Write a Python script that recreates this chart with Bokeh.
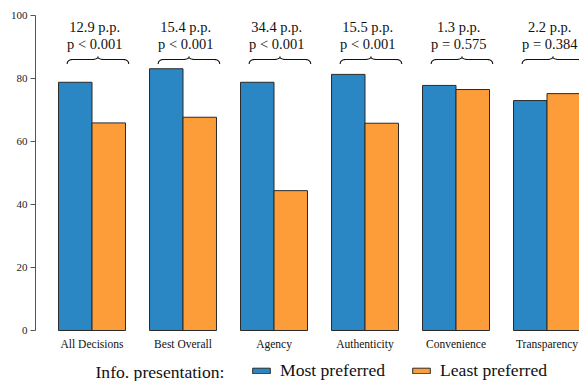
from bokeh.plotting import figure
from bokeh.models import (ColumnDataSource, Range1d, FixedTicker, Legend, LegendItem,
                          Label, LinearAxis)
from bokeh.transform import dodge
from bokeh.core.properties import value
from bokeh.embed import file_html
from bokeh.resources import INLINE
import numpy as np

categories = ["All Decisions", "Best Overall", "Agency", "Authenticity", "Convenience", "Transparency"]
most_preferred = [78.8, 83.1, 78.8, 81.3, 77.8, 73.0]
least_preferred = [65.9, 67.7, 44.4, 65.8, 76.5, 75.2]
diff_labels = ["12.9 p.p.", "15.4 p.p.", "34.4 p.p.", "15.5 p.p.", "1.3 p.p.", "2.2 p.p."]
p_labels = ["p < 0.001", "p < 0.001", "p < 0.001", "p < 0.001", "p = 0.575", "p = 0.384"]
y_ticks = [0, 20, 40, 60, 80, 100]

FONT = "Liberation Serif"
BLUE = "#2b87c3"
ORANGE = "#fc9d3a"

idx = list(range(len(categories)))
src = ColumnDataSource(dict(x=idx, most=most_preferred, least=least_preferred,
                            d=diff_labels, pv=p_labels, cat=categories,
                            zero=[0] * len(idx)))

p = figure(width=579, height=381, output_backend="svg", toolbar_location=None,
           x_range=Range1d(-0.621, 5.357), y_range=Range1d(-16.19, 100),
           x_axis_location=None, y_axis_location=None,
           min_border_left=35, min_border_right=0, min_border_top=15, min_border_bottom=0)
p.outline_line_color = None
p.xgrid.visible = False
p.ygrid.visible = False

bw = 0.368
r1 = p.vbar(x=dodge("x", -bw / 2, range=p.x_range), top="most", width=bw, source=src,
            fill_color=BLUE, line_color="#2a2a2a", line_width=1)
r2 = p.vbar(x=dodge("x", bw / 2, range=p.x_range), top="least", width=bw, source=src,
            fill_color=ORANGE, line_color="#2a2a2a", line_width=1)

# annotations above groups
p.text(x=dodge("x", 0.03, range=p.x_range), y=96.2, text="d", source=src,
       text_font=value(FONT), text_font_size="14.5px", text_align="center",
       text_baseline="middle", text_color="#111111")
p.text(x=dodge("x", 0.03, range=p.x_range), y=91.0, text="pv", source=src,
       text_font=value(FONT), text_font_size="14.5px", text_align="center",
       text_baseline="middle", text_color="#111111")

# category labels below bars
p.text(x="x", y="zero", text="cat", source=src, y_offset=13,
       text_font=value(FONT), text_font_size="11.5px", text_align="center",
       text_baseline="middle", text_color="#111111")

# curly braces
def brace(xc, half, yb, h, r):
    x0, x1 = xc - half, xc + half
    t = np.linspace(0, 1, 12)
    def quad(p0, p1, p2):
        return ((1 - t) ** 2 * p0[0] + 2 * (1 - t) * t * p1[0] + t ** 2 * p2[0],
                (1 - t) ** 2 * p0[1] + 2 * (1 - t) * t * p1[1] + t ** 2 * p2[1])
    ym = yb + h * 0.6
    xs, ys = [], []
    a = quad((x0, yb), (x0, ym), (x0 + r, ym)); xs += list(a[0]); ys += list(a[1])
    b = quad((xc - r, ym), (xc, ym), (xc, yb + h)); xs += list(b[0]); ys += list(b[1])
    c = quad((xc, yb + h), (xc, ym), (xc + r, ym)); xs += list(c[0]); ys += list(c[1])
    d = quad((x1 - r, ym), (x1, ym), (x1, yb)); xs += list(d[0]); ys += list(d[1])
    return xs, ys

bxs, bys = [], []
for i in idx:
    xs, ys = brace(i + 0.065, 0.338, 84.6, 2.4, 0.07)
    bxs.append(xs); bys.append(ys)
p.multi_line(xs=bxs, ys=bys, line_color="#111111", line_width=1.1)

# y axis (line limited to 0..100)
yax = LinearAxis(ticker=FixedTicker(ticks=y_ticks), bounds=(0, 100))
yax.axis_line_color = "#555555"
yax.major_tick_line_color = "#555555"
yax.major_tick_out = 5
yax.major_tick_in = 0
yax.minor_tick_line_color = None
yax.major_label_text_font = FONT
yax.major_label_text_font_size = "11px"
yax.major_label_text_color = "#222222"
yax.major_label_standoff = 3
p.add_layout(yax, "left")

# legend
legend = Legend(items=[LegendItem(label="Most preferred", renderers=[r1]),
                       LegendItem(label="Least preferred", renderers=[r2])],
                orientation="horizontal", location=(215, 0),
                glyph_width=22, glyph_height=7, label_standoff=8, spacing=25,
                padding=0, margin=0, border_line_color=None, background_fill_alpha=0,
                label_text_font=FONT, label_text_font_size="17.6px",
                label_text_color="#111111", label_height=20)
p.add_layout(legend)

title = Label(x=60, y=10, x_units="screen", y_units="screen", text="Info. presentation:",
              text_font=FONT, text_font_size="17.6px", text_baseline="middle",
              text_color="#111111")
p.add_layout(title)

open("out.html", "w").write(file_html(p, INLINE))
